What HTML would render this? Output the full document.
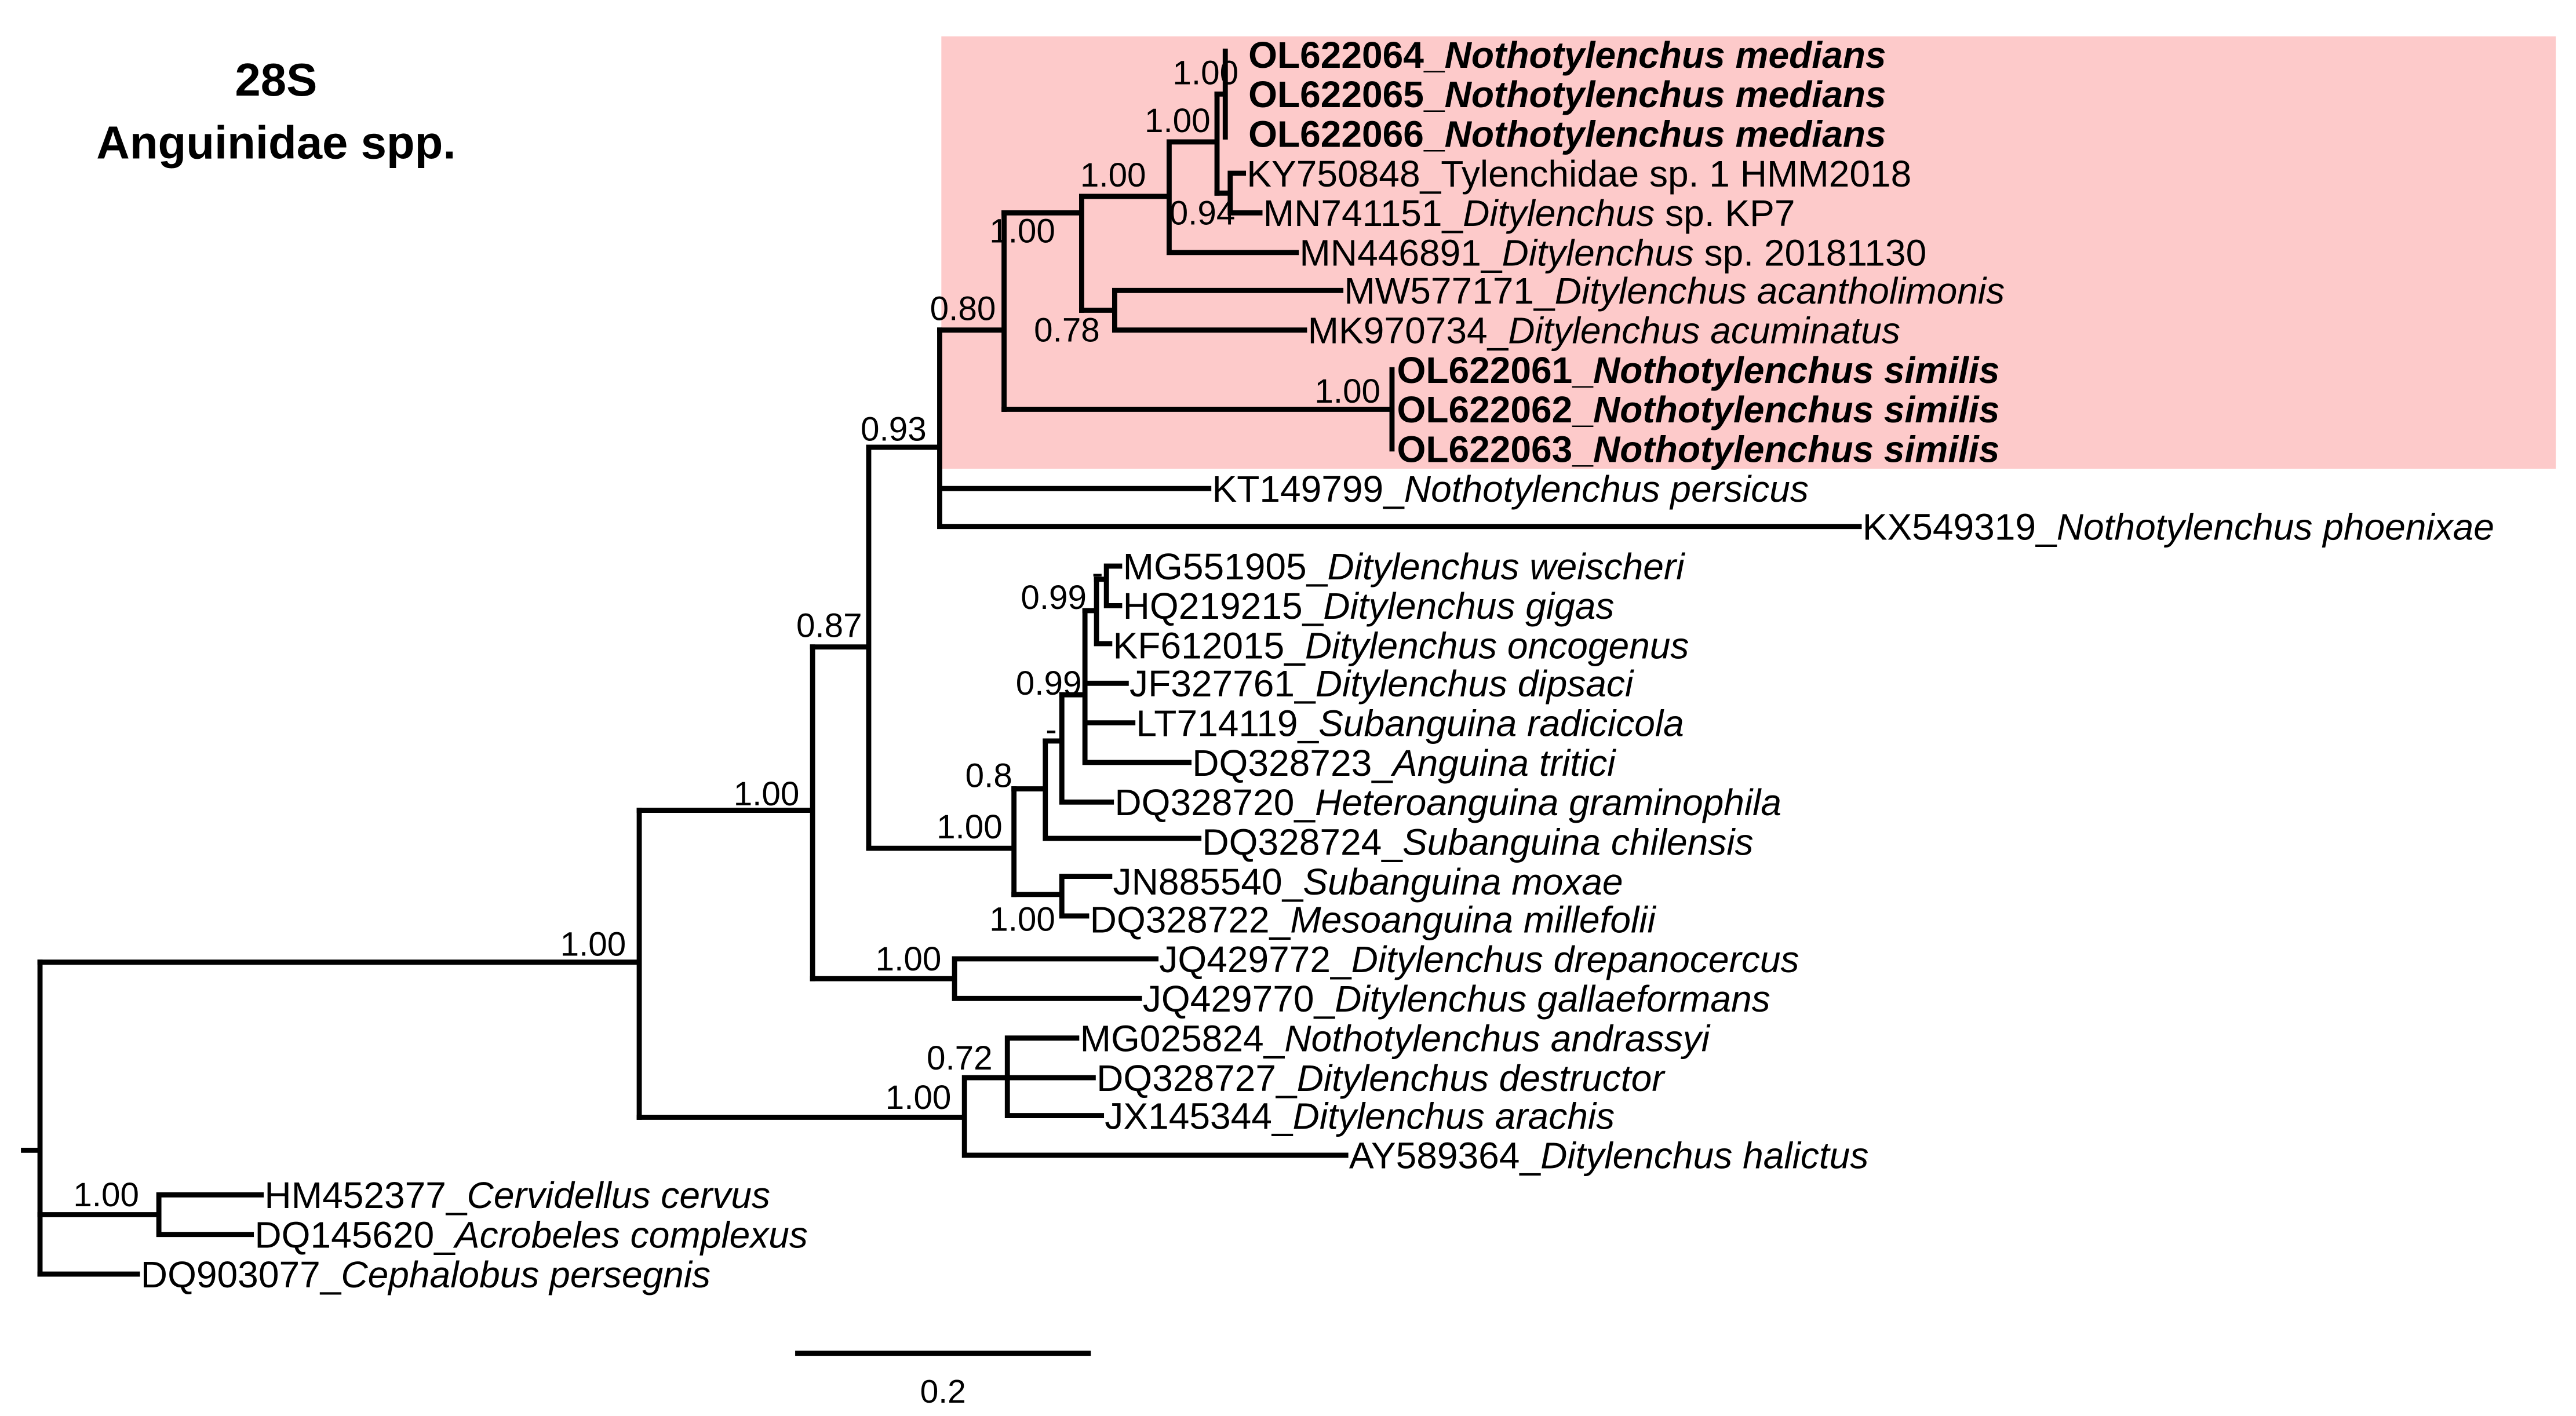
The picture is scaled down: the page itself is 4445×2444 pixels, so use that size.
<!DOCTYPE html>
<html><head><meta charset="utf-8"><style>
html,body{margin:0;padding:0;background:#fff;}
svg{display:block;}
text{font-family:"Liberation Sans",Arial,sans-serif;}
.l{font-size:22.5px;}
.s{font-size:20.5px;text-anchor:end;}
.b{font-weight:bold;}
</style></head><body>
<svg width="4445" height="2444" viewBox="0 0 1560 858" xmlns="http://www.w3.org/2000/svg">
<rect x="0" y="0" width="1560" height="858" fill="#fff"/>
<rect x="570" y="22" width="978" height="262" fill="#fdcaca"/>
<text x="167" y="58" font-size="28" font-weight="bold" text-anchor="middle">28S</text>
<text x="167" y="96" font-size="28" font-weight="bold" text-anchor="middle">Anguinidae spp.</text>
<g stroke="#000" stroke-width="3.1" fill="none" stroke-linecap="square">
<path d="M14 697H24 M24 583V772"/>
<path d="M24 736H96 M96 724V748 M96 724H158 M96 748H152 M24 772H83"/>
<path d="M24 583H387 M387 491V677"/>
<path d="M387 491H492 M492 392V593"/>
<path d="M387 677H584 M584 653V700 M584 653H610 M610 629V676 M610 629H652 M610 653H662 M610 676H667 M584 700H815"/>
<path d="M492 593H578 M578 581V605 M578 581H700 M578 605H690"/>
<path d="M492 392H526 M526 271V514"/>
<path d="M526 271H569 M569 200V319 M569 296H732 M569 319H1126"/>
<path d="M569 200H608 M608 129V248"/>
<path d="M608 248H843 M843 224V272"/>
<path d="M608 129H655 M655 119V188"/>
<path d="M655 188H675 M675 176V200 M675 176H812 M675 200H790"/>
<path d="M655 119H708 M708 86V153 M708 153H785"/>
<path d="M708 86H737 M737 57V117"/>
<path d="M737 57H742 M742 31V83"/>
<path d="M737 117H745 M745 105V129 M745 105H753 M745 129H763"/>
<path d="M526 514H614 M614 478V542"/>
<path d="M614 542H643 M643 531V555 M643 531H672 M643 555H658"/>
<path d="M614 478H633 M633 449V508 M633 508H726"/>
<path d="M633 449H643 M643 421V486 M643 486H673"/>
<path d="M643 421H657 M657 370V462 M657 414H682 M657 438H686 M657 462H720"/>
<path d="M657 370H664 M664 351V390 M664 390H672"/>
<path d="M664 351H670 M670 343V367 M670 343H678 M670 367H678"/>
<path d="M483 820H659"/>
</g>
<text x="571" y="850" font-size="20" text-anchor="middle">0.2</text>
<text class="s" x="84" y="731">1.00</text>
<text class="s" x="379" y="579">1.00</text>
<text class="s" x="484" y="488">1.00</text>
<text class="s" x="576" y="672">1.00</text>
<text class="s" x="601" y="648">0.72</text>
<text class="s" x="570" y="588">1.00</text>
<text class="s" x="522" y="386">0.87</text>
<text class="s" x="607" y="508">1.00</text>
<text class="s" x="561" y="267">0.93</text>
<text class="s" x="603" y="194">0.80</text>
<text class="s" x="639" y="147">1.00</text>
<text class="s" x="836" y="244">1.00</text>
<text class="s" x="666" y="207">0.78</text>
<text class="s" x="694" y="113">1.00</text>
<text class="s" x="733" y="80">1.00</text>
<text class="s" x="750" y="51">1.00</text>
<text class="s" x="748" y="136">0.94</text>
<text class="s" x="613" y="477">0.8</text>
<text class="s" x="640" y="449">-</text>
<text class="s" x="655" y="421">0.99</text>
<text class="s" x="658" y="369">0.99</text>
<text class="s" x="668" y="354">-</text>
<text class="s" x="639" y="564">1.00</text>
<g class="l">
<text x="756" y="41" class="b">OL622064_<tspan font-style="italic">Nothotylenchus medians</tspan></text>
<text x="756" y="65" class="b">OL622065_<tspan font-style="italic">Nothotylenchus medians</tspan></text>
<text x="756" y="89" class="b">OL622066_<tspan font-style="italic">Nothotylenchus medians</tspan></text>
<text x="755" y="113">KY750848_Tylenchidae sp. 1 HMM2018</text>
<text x="765" y="137">MN741151_<tspan font-style="italic">Ditylenchus</tspan> sp. KP7</text>
<text x="787" y="161">MN446891_<tspan font-style="italic">Ditylenchus</tspan> sp. 20181130</text>
<text x="814" y="184">MW577171_<tspan font-style="italic">Ditylenchus acantholimonis</tspan></text>
<text x="792" y="208">MK970734_<tspan font-style="italic">Ditylenchus acuminatus</tspan></text>
<text x="846" y="232" class="b">OL622061_<tspan font-style="italic">Nothotylenchus similis</tspan></text>
<text x="846" y="256" class="b">OL622062_<tspan font-style="italic">Nothotylenchus similis</tspan></text>
<text x="846" y="280" class="b">OL622063_<tspan font-style="italic">Nothotylenchus similis</tspan></text>
<text x="734" y="304">KT149799_<tspan font-style="italic">Nothotylenchus persicus</tspan></text>
<text x="1128" y="327">KX549319_<tspan font-style="italic">Nothotylenchus phoenixae</tspan></text>
<text x="680" y="351">MG551905_<tspan font-style="italic">Ditylenchus weischeri</tspan></text>
<text x="680" y="375">HQ219215_<tspan font-style="italic">Ditylenchus gigas</tspan></text>
<text x="674" y="399">KF612015_<tspan font-style="italic">Ditylenchus oncogenus</tspan></text>
<text x="684" y="422">JF327761_<tspan font-style="italic">Ditylenchus dipsaci</tspan></text>
<text x="688" y="446">LT714119_<tspan font-style="italic">Subanguina radicicola</tspan></text>
<text x="722" y="470">DQ328723_<tspan font-style="italic">Anguina tritici</tspan></text>
<text x="675" y="494">DQ328720_<tspan font-style="italic">Heteroanguina graminophila</tspan></text>
<text x="728" y="518">DQ328724_<tspan font-style="italic">Subanguina chilensis</tspan></text>
<text x="674" y="542">JN885540_<tspan font-style="italic">Subanguina moxae</tspan></text>
<text x="660" y="565">DQ328722_<tspan font-style="italic">Mesoanguina millefolii</tspan></text>
<text x="702" y="589">JQ429772_<tspan font-style="italic">Ditylenchus drepanocercus</tspan></text>
<text x="692" y="613">JQ429770_<tspan font-style="italic">Ditylenchus gallaeformans</tspan></text>
<text x="654" y="637">MG025824_<tspan font-style="italic">Nothotylenchus andrassyi</tspan></text>
<text x="664" y="661">DQ328727_<tspan font-style="italic">Ditylenchus destructor</tspan></text>
<text x="669" y="684">JX145344_<tspan font-style="italic">Ditylenchus arachis</tspan></text>
<text x="817" y="708">AY589364_<tspan font-style="italic">Ditylenchus halictus</tspan></text>
<text x="160" y="732">HM452377_<tspan font-style="italic">Cervidellus cervus</tspan></text>
<text x="154" y="756">DQ145620_<tspan font-style="italic">Acrobeles complexus</tspan></text>
<text x="85" y="780">DQ903077_<tspan font-style="italic">Cephalobus persegnis</tspan></text>
</g>
</svg>
</body></html>
